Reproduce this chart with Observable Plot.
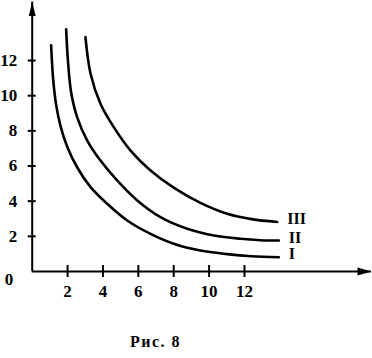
<!DOCTYPE html>
<html><head><meta charset="utf-8">
<script src="https://cdn.jsdelivr.net/npm/d3@7"></script>
<script src="https://cdn.jsdelivr.net/npm/@observablehq/plot@0.6"></script>
<style>
body{margin:0;background:#fff;}
#wrap{position:relative;width:372px;height:358px;overflow:hidden;}
#cap{position:absolute;left:130px;top:334px;font:bold 16px "Liberation Serif";letter-spacing:1.5px;line-height:16px;color:#000;white-space:nowrap;}
</style></head><body>
<div id="wrap"><div id="chart"></div><div id="cap">Рис. 8</div></div>
<script>
// Data
const curveNames = ["I", "II", "III"];
const curveIx = [1.07, 1.18, 1.35, 1.62, 1.98, 2.54, 3.30, 4.24, 5.37, 6.69, 8.00, 9.51, 11.02, 12.40, 13.94];
const curveIy = [12.86, 11.00, 9.50, 8.20, 7.10, 5.93, 4.80, 3.85, 2.90, 2.14, 1.58, 1.19, 0.99, 0.87, 0.81];
const curveIIx = [1.92, 2.02, 2.20, 2.54, 3.11, 3.86, 4.80, 5.94, 7.25, 8.76, 10.27, 11.78, 12.90, 13.94];
const curveIIy = [13.77, 12.00, 10.20, 8.78, 7.45, 6.31, 5.18, 4.04, 3.09, 2.43, 2.05, 1.86, 1.78, 1.76];
const curveIIIx = [3.01, 3.30, 3.86, 4.61, 5.56, 6.69, 8.00, 9.51, 11.02, 12.40, 13.85];
const curveIIIy = [13.33, 11.25, 9.54, 8.21, 6.88, 5.75, 4.77, 3.90, 3.28, 2.98, 2.82];
const xTicks = [2, 4, 6, 8, 10, 12];
const yTicks = [2, 4, 6, 8, 10, 12];
const originLabel = ["0"];
const xAxisMax = 19.18;
const yAxisMax = 15.33;

const series = [[curveIx, curveIy], [curveIIx, curveIIy], [curveIIIx, curveIIIy]];
const rows = series.flatMap(([xs, ys], k) => xs.map((x, i) => ({curve: curveNames[k], x, y: ys[i]})));
const ends = series.map(([xs, ys], k) => ({name: curveNames[k], x: xs[xs.length - 1], y: ys[ys.length - 1]}));

const arrowUp = {draw(ctx) { ctx.moveTo(0, 0); ctx.lineTo(-3.5, 14); ctx.lineTo(3.5, 14); ctx.closePath(); }};
const arrowRight = {draw(ctx) { ctx.moveTo(0, 0); ctx.lineTo(-14, -4); ctx.lineTo(-14, 4); ctx.closePath(); }};

const font = "Liberation Serif";
const chart = Plot.plot({
  width: 372,
  height: 320,
  margin: 0,
  style: {fontFamily: font, background: "white", color: "black"},
  x: {domain: [0, 19.2], range: [31.7, 31.7 + 19.2 * 17.69], axis: null},
  y: {domain: [0, 15.4], range: [271, 271 - 15.4 * 17.58], axis: null},
  marks: [
    Plot.ruleY([0], {x1: 0, x2: xAxisMax, stroke: "black", strokeWidth: 2}),
    Plot.ruleX([0], {y1: 0, y2: yAxisMax, stroke: "black", strokeWidth: 2}),
    Plot.dot([{x: 0, y: yAxisMax}], {x: "x", y: "y", symbol: arrowUp, r: 5, fill: "black", stroke: null}),
    Plot.dot([{x: xAxisMax, y: 0}], {x: "x", y: "y", symbol: arrowRight, r: 5, fill: "black", stroke: null}),
    Plot.ruleX(xTicks, {x: d => d, y1: 0, y2: 0, insetTop: -6, insetBottom: -6, stroke: "black", strokeWidth: 2}),
    Plot.ruleY(yTicks, {y: d => d, x1: 0, x2: 0, insetLeft: -4, insetRight: -4, stroke: "black", strokeWidth: 2}),
    Plot.text(xTicks, {x: d => d, y: 0, dy: 20, text: d => String(d), fontSize: 17, fontWeight: "bold", fill: "black"}),
    Plot.text(yTicks, {x: 0, y: d => d, dx: -15, textAnchor: "end", text: d => String(d), fontSize: 17, fontWeight: "bold", fill: "black"}),
    Plot.text(originLabel, {x: 0, y: 0, dx: -19, dy: 8, textAnchor: "end", text: d => d, fontSize: 17, fontWeight: "bold", fill: "black"}),
    Plot.line(rows, {x: "x", y: "y", z: "curve", curve: "catmull-rom", stroke: "black", strokeWidth: 2.6}),
    Plot.text(ends, {x: "x", y: "y", text: "name", dx: 10, dy: -3, textAnchor: "start", fontSize: 16, fontWeight: "bold", fill: "black"})
  ]
});
document.getElementById("chart").appendChild(chart);
</script>
</body></html>
